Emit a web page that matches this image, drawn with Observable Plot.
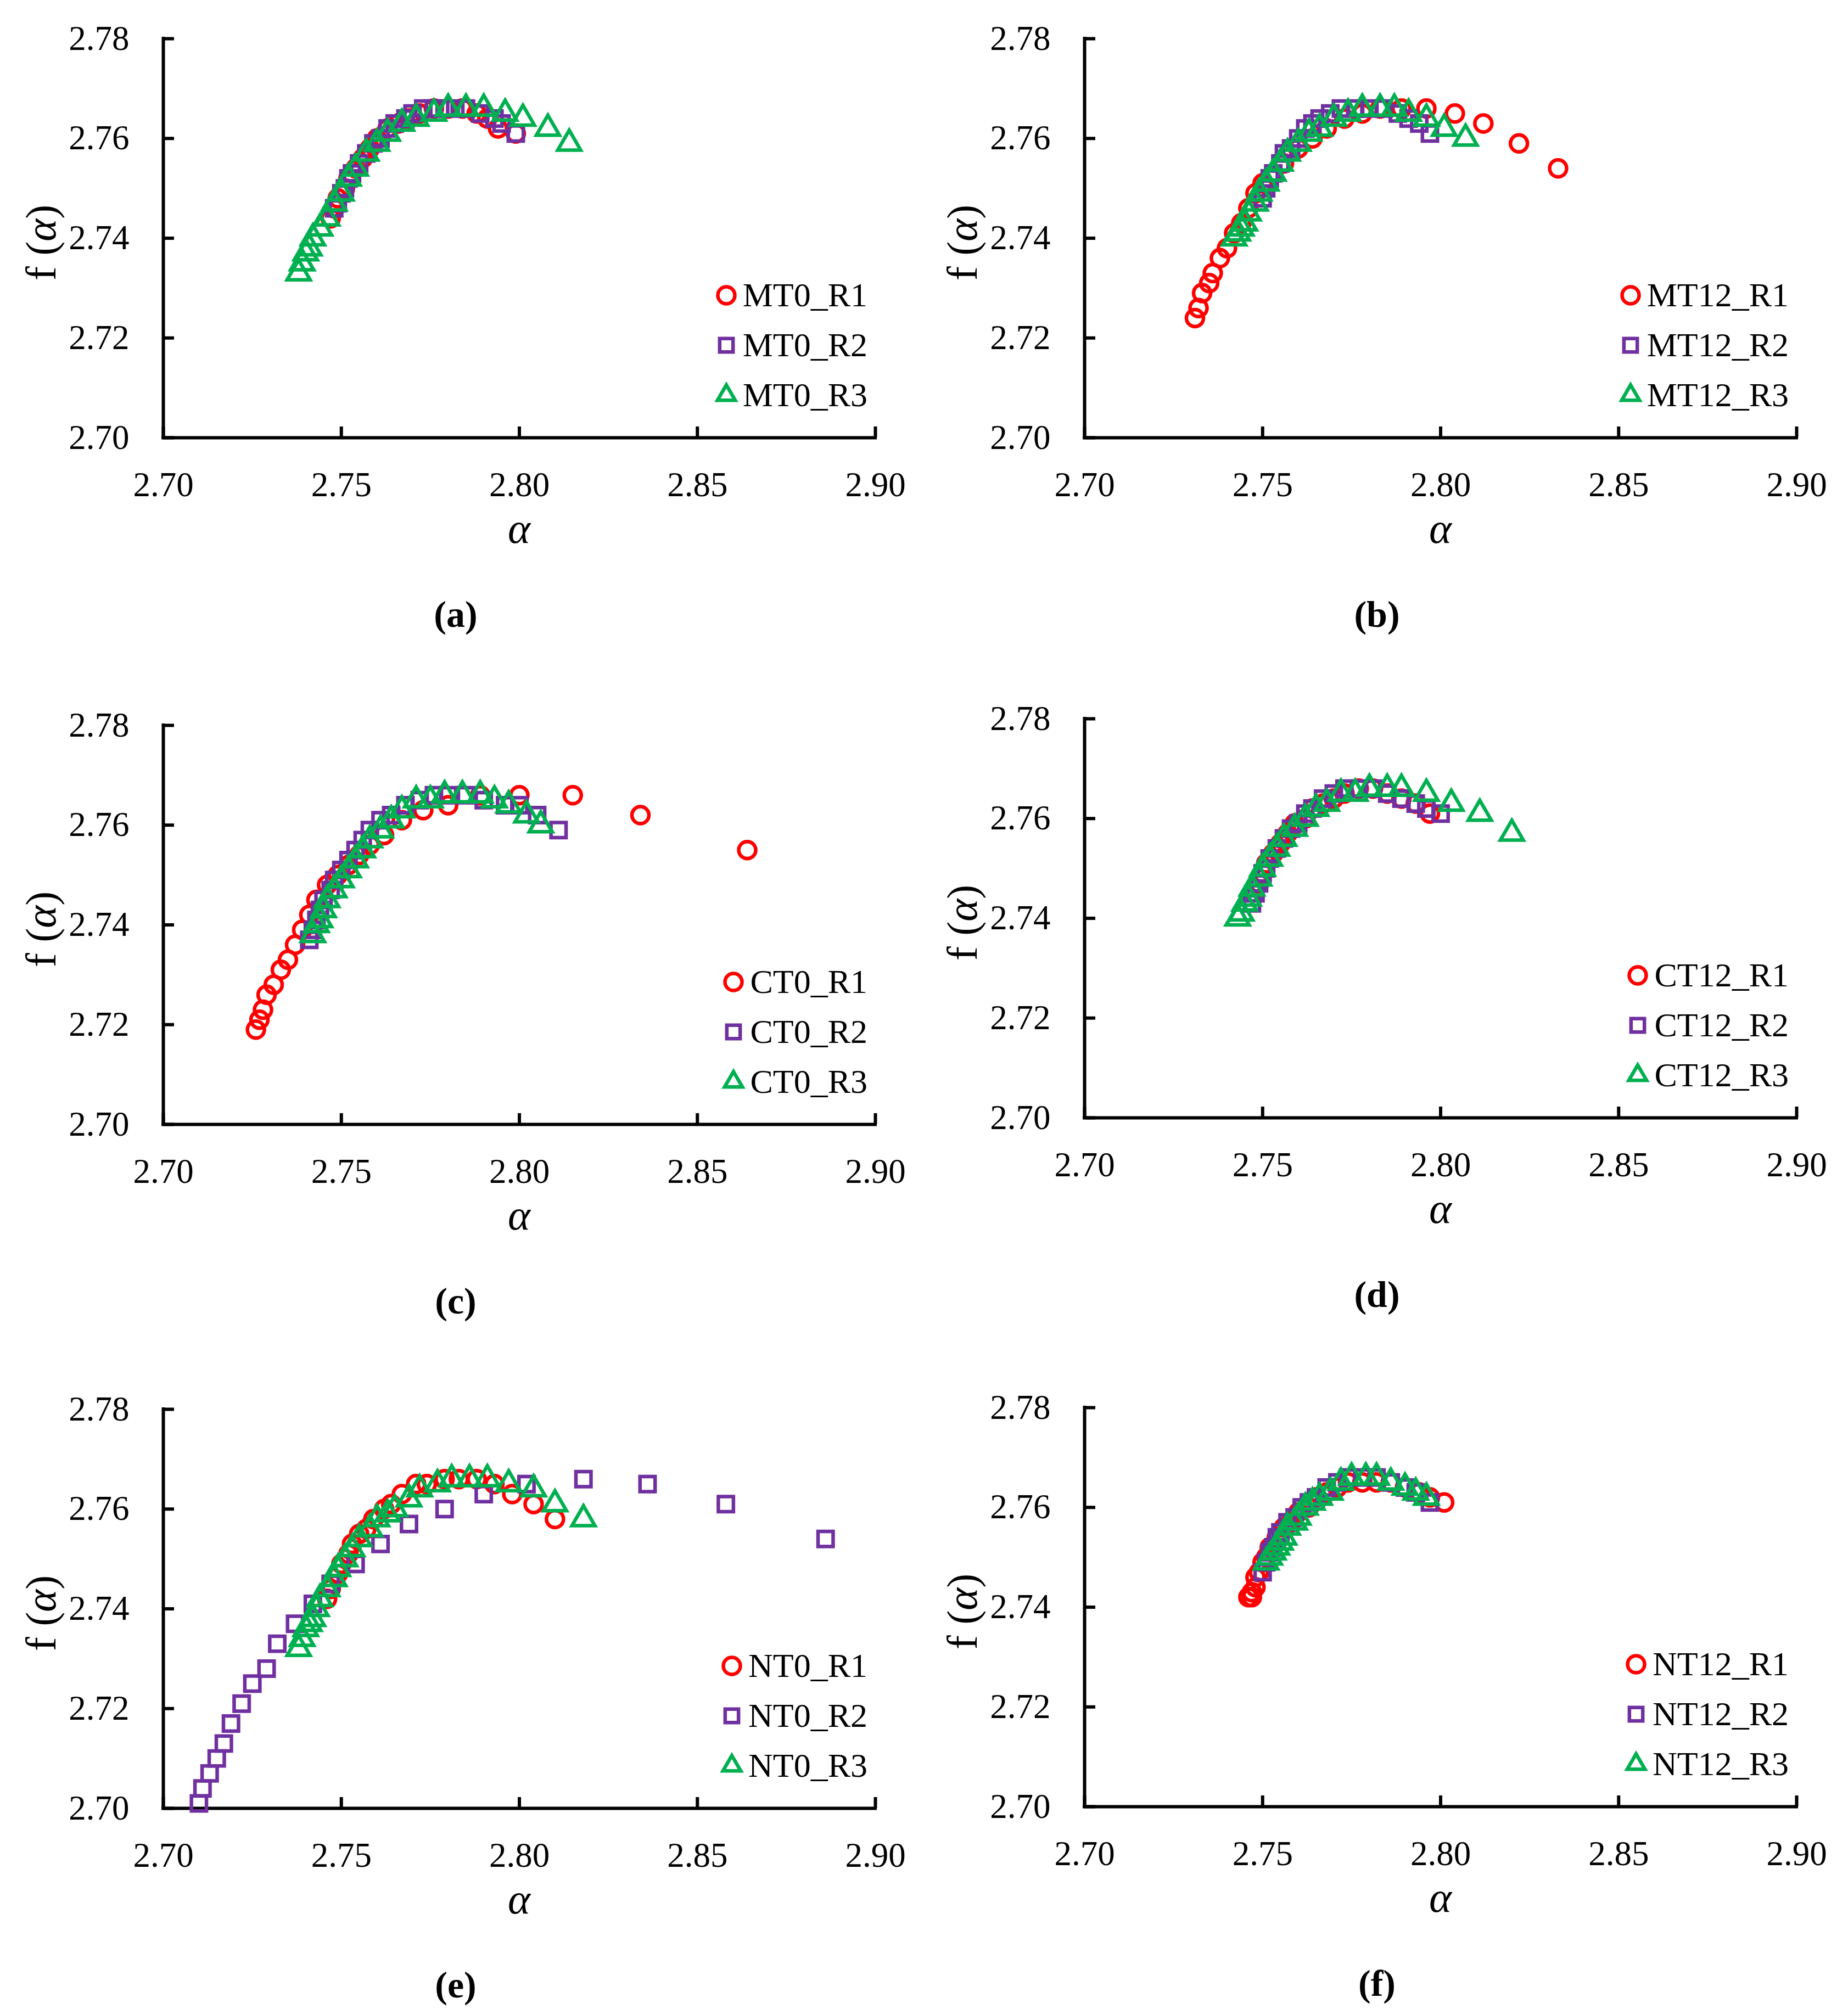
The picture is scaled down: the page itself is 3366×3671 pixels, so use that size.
<!DOCTYPE html>
<html>
<head>
<meta charset="utf-8">
<script src="https://cdn.jsdelivr.net/npm/d3@7"></script>
<script src="https://cdn.jsdelivr.net/npm/@observablehq/plot@0.6"></script>
<style>
  body { margin: 0; background: #fff; }
  #fig { position: relative; width: 3366px; height: 3671px; font-family: "Liberation Serif", serif; color: #000; }
  #fig > svg { position: absolute; overflow: visible; }
  .lbl { position: absolute; transform: translate(-50%, -50%); white-space: nowrap; }
  .legend { position: absolute; font-size: 62px; }
  .legend .row { display: flex; align-items: center; height: 91px; justify-content: flex-start; }
  .legend .row svg { position: static; margin-right: 10px; overflow: visible; }
</style>
</head>
<body>
<div id="fig"></div>
<script>
// ticks
const alphaTicks = [2.70, 2.75, 2.80, 2.85, 2.90]
const fTicks = [2.70, 2.72, 2.74, 2.76, 2.78]

// (a) MT0  [alpha, f(alpha)]
const MT0_R1 = [[2.747,2.744],[2.748,2.746],[2.749,2.748],[2.751,2.750],[2.752,2.752],[2.754,2.754],[2.756,2.756],[2.758,2.758],[2.760,2.760],[2.763,2.762],[2.766,2.763],[2.769,2.764],[2.772,2.765],[2.776,2.766],[2.780,2.766],[2.784,2.766],[2.788,2.765],[2.791,2.764],[2.794,2.762],[2.799,2.761]]
const MT0_R2 = [[2.748,2.746],[2.749,2.747],[2.750,2.749],[2.751,2.750],[2.752,2.752],[2.753,2.753],[2.755,2.755],[2.757,2.757],[2.759,2.759],[2.761,2.760],[2.763,2.762],[2.765,2.763],[2.768,2.764],[2.770,2.765],[2.773,2.766],[2.776,2.766],[2.779,2.766],[2.782,2.766],[2.785,2.766],[2.789,2.765],[2.793,2.764],[2.795,2.763],[2.799,2.761]]
const MT0_R3 = [[2.738,2.733],[2.739,2.735],[2.740,2.737],[2.741,2.738],[2.742,2.740],[2.744,2.742],[2.746,2.744],[2.748,2.747],[2.750,2.749],[2.752,2.752],[2.754,2.754],[2.757,2.757],[2.760,2.759],[2.763,2.761],[2.767,2.763],[2.771,2.764],[2.776,2.765],[2.780,2.766],[2.785,2.766],[2.790,2.766],[2.796,2.765],[2.801,2.764],[2.808,2.762],[2.814,2.759]]

// (b) MT12
const MT12_R1 = [[2.731,2.724],[2.732,2.726],[2.733,2.729],[2.735,2.731],[2.736,2.733],[2.738,2.736],[2.740,2.738],[2.742,2.741],[2.744,2.743],[2.746,2.746],[2.748,2.749],[2.750,2.751],[2.753,2.753],[2.756,2.755],[2.760,2.758],[2.764,2.760],[2.768,2.762],[2.773,2.764],[2.778,2.765],[2.783,2.766],[2.789,2.766],[2.796,2.766],[2.804,2.765],[2.812,2.763],[2.822,2.759],[2.833,2.754]]
const MT12_R2 = [[2.750,2.748],[2.751,2.750],[2.752,2.752],[2.753,2.753],[2.755,2.755],[2.756,2.757],[2.758,2.758],[2.760,2.760],[2.762,2.762],[2.764,2.763],[2.766,2.764],[2.769,2.765],[2.772,2.766],[2.776,2.766],[2.780,2.766],[2.784,2.766],[2.788,2.765],[2.791,2.764],[2.794,2.763],[2.797,2.761]]
const MT12_R3 = [[2.742,2.740],[2.743,2.741],[2.744,2.742],[2.745,2.743],[2.746,2.745],[2.748,2.747],[2.749,2.749],[2.751,2.751],[2.753,2.753],[2.755,2.755],[2.757,2.757],[2.760,2.759],[2.763,2.761],[2.766,2.762],[2.770,2.764],[2.774,2.765],[2.778,2.766],[2.783,2.766],[2.787,2.766],[2.791,2.765],[2.796,2.764],[2.801,2.762],[2.807,2.760]]

// (c) CT0
const CT0_R1 = [[2.726,2.719],[2.727,2.721],[2.728,2.723],[2.729,2.726],[2.731,2.728],[2.733,2.731],[2.735,2.733],[2.737,2.736],[2.739,2.739],[2.741,2.742],[2.743,2.745],[2.746,2.748],[2.749,2.750],[2.752,2.752],[2.755,2.754],[2.758,2.756],[2.762,2.758],[2.767,2.761],[2.773,2.763],[2.780,2.764],[2.789,2.766],[2.800,2.766],[2.815,2.766],[2.834,2.762],[2.864,2.755]]
const CT0_R2 = [[2.741,2.737],[2.742,2.739],[2.743,2.741],[2.744,2.743],[2.745,2.745],[2.747,2.747],[2.748,2.749],[2.750,2.751],[2.752,2.753],[2.754,2.755],[2.756,2.757],[2.758,2.759],[2.761,2.761],[2.764,2.762],[2.768,2.764],[2.772,2.765],[2.776,2.766],[2.780,2.766],[2.785,2.766],[2.790,2.765],[2.796,2.764],[2.800,2.764],[2.805,2.762],[2.811,2.759]]
const CT0_R3 = [[2.742,2.738],[2.743,2.740],[2.744,2.741],[2.745,2.743],[2.746,2.745],[2.748,2.747],[2.750,2.749],[2.752,2.751],[2.754,2.753],[2.756,2.755],[2.758,2.757],[2.761,2.759],[2.764,2.761],[2.767,2.763],[2.771,2.765],[2.775,2.765],[2.779,2.766],[2.784,2.766],[2.789,2.766],[2.793,2.765],[2.797,2.764],[2.802,2.762],[2.806,2.760]]

// (d) CT12
const CT12_R1 = [[2.749,2.747],[2.750,2.749],[2.751,2.751],[2.753,2.753],[2.755,2.755],[2.757,2.757],[2.759,2.759],[2.762,2.760],[2.764,2.762],[2.767,2.763],[2.770,2.764],[2.773,2.765],[2.777,2.766],[2.781,2.766],[2.785,2.765],[2.789,2.764],[2.793,2.763],[2.797,2.761]]
const CT12_R2 = [[2.747,2.743],[2.748,2.745],[2.749,2.747],[2.750,2.749],[2.751,2.750],[2.752,2.752],[2.754,2.754],[2.756,2.756],[2.758,2.758],[2.760,2.759],[2.762,2.761],[2.764,2.762],[2.767,2.764],[2.770,2.765],[2.773,2.766],[2.777,2.766],[2.781,2.766],[2.785,2.765],[2.789,2.764],[2.793,2.763],[2.796,2.762],[2.800,2.761]]
const CT12_R3 = [[2.743,2.740],[2.744,2.741],[2.745,2.743],[2.746,2.744],[2.747,2.746],[2.749,2.748],[2.750,2.750],[2.752,2.752],[2.754,2.754],[2.756,2.756],[2.759,2.758],[2.762,2.760],[2.765,2.762],[2.768,2.763],[2.772,2.765],[2.776,2.765],[2.780,2.766],[2.785,2.766],[2.789,2.766],[2.796,2.765],[2.803,2.763],[2.811,2.761],[2.820,2.757]]

// (e) NT0
const NT0_R1 = [[2.746,2.742],[2.747,2.744],[2.749,2.747],[2.750,2.749],[2.752,2.751],[2.753,2.753],[2.755,2.755],[2.757,2.756],[2.759,2.758],[2.762,2.760],[2.764,2.761],[2.767,2.763],[2.771,2.765],[2.774,2.765],[2.779,2.766],[2.783,2.766],[2.788,2.766],[2.793,2.765],[2.798,2.763],[2.804,2.761],[2.810,2.758]]
const NT0_R2 = [[2.710,2.701],[2.711,2.704],[2.713,2.707],[2.715,2.710],[2.717,2.713],[2.719,2.717],[2.722,2.721],[2.725,2.725],[2.729,2.728],[2.732,2.733],[2.737,2.737],[2.742,2.741],[2.747,2.745],[2.754,2.749],[2.761,2.753],[2.769,2.757],[2.779,2.760],[2.790,2.763],[2.802,2.765],[2.818,2.766],[2.836,2.765],[2.858,2.761],[2.886,2.754]]
const NT0_R3 = [[2.738,2.732],[2.739,2.734],[2.740,2.736],[2.741,2.737],[2.742,2.738],[2.743,2.740],[2.744,2.742],[2.746,2.744],[2.748,2.746],[2.749,2.748],[2.751,2.750],[2.753,2.752],[2.755,2.754],[2.758,2.756],[2.760,2.758],[2.763,2.759],[2.765,2.760],[2.769,2.762],[2.772,2.764],[2.777,2.765],[2.781,2.766],[2.786,2.766],[2.791,2.766],[2.797,2.765],[2.804,2.764],[2.810,2.761],[2.818,2.758]]

// (f) NT12
const NT12_R1 = [[2.746,2.742],[2.747,2.742],[2.747,2.743],[2.748,2.744],[2.748,2.746],[2.749,2.747],[2.750,2.749],[2.751,2.750],[2.752,2.752],[2.754,2.754],[2.756,2.756],[2.758,2.757],[2.760,2.759],[2.763,2.760],[2.765,2.762],[2.768,2.763],[2.771,2.764],[2.774,2.765],[2.778,2.765],[2.782,2.765],[2.786,2.765],[2.790,2.764],[2.794,2.763],[2.797,2.762],[2.801,2.761]]
const NT12_R2 = [[2.750,2.747],[2.751,2.749],[2.752,2.751],[2.753,2.752],[2.754,2.754],[2.755,2.755],[2.757,2.757],[2.759,2.758],[2.761,2.760],[2.763,2.761],[2.765,2.762],[2.768,2.764],[2.771,2.765],[2.774,2.766],[2.778,2.766],[2.782,2.766],[2.786,2.765],[2.790,2.764],[2.793,2.763],[2.797,2.761]]
const NT12_R3 = [[2.751,2.749],[2.752,2.750],[2.753,2.751],[2.754,2.752],[2.755,2.753],[2.756,2.754],[2.757,2.756],[2.759,2.757],[2.760,2.758],[2.762,2.760],[2.764,2.761],[2.766,2.762],[2.769,2.763],[2.772,2.765],[2.775,2.766],[2.779,2.766],[2.782,2.766],[2.786,2.765],[2.790,2.764],[2.793,2.763],[2.796,2.762]]

const panels = [
  {caption: "(a)", col: 0, top: 70,   series: [["MT0_R1", MT0_R1], ["MT0_R2", MT0_R2], ["MT0_R3", MT0_R3]]},
  {caption: "(b)", col: 1, top: 70,   series: [["MT12_R1", MT12_R1], ["MT12_R2", MT12_R2], ["MT12_R3", MT12_R3]]},
  {caption: "(c)", col: 0, top: 1321, series: [["CT0_R1", CT0_R1], ["CT0_R2", CT0_R2], ["CT0_R3", CT0_R3]]},
  {caption: "(d)", col: 1, top: 1309, series: [["CT12_R1", CT12_R1], ["CT12_R2", CT12_R2], ["CT12_R3", CT12_R3]]},
  {caption: "(e)", col: 0, top: 2567, series: [["NT0_R1", NT0_R1], ["NT0_R2", NT0_R2], ["NT0_R3", NT0_R3]]},
  {caption: "(f)", col: 1, top: 2564, series: [["NT12_R1", NT12_R1], ["NT12_R2", NT12_R2], ["NT12_R3", NT12_R3]]}
]

// one style per replicate: R1 circles, R2 squares, R3 triangles
const markers = [
  {symbol: "circle",   stroke: "#FF0000", d3sym: d3.symbolCircle},
  {symbol: "square",   stroke: "#7030A0", d3sym: d3.symbolSquare2},
  {symbol: "triangle", stroke: "#00B050", d3sym: d3.symbolTriangle2}
]

const colLeft = [297, 1975]
const plotW = 1297, plotH = 727
const mL = 297, mT = 70, mB = 203, svgW = 1683
const R = 15.5, SW = 6.5, AW = 6, tickLen = 20

const fig = d3.select("#fig")

panels.forEach(p => {
  const left = colLeft[p.col]
  const chart = Plot.plot({
    width: svgW,
    height: mT + plotH + mB,
    marginLeft: mL,
    marginRight: svgW - mL - plotW,
    marginTop: mT,
    marginBottom: mB,
    style: {fontFamily: "'Liberation Serif', serif", fontSize: "63px", background: "transparent", color: "#000"},
    x: {domain: [2.70, 2.90], ticks: alphaTicks, tickSize: 0, tickPadding: 62, tickFormat: d => d.toFixed(2), label: null},
    y: {domain: [2.70, 2.78], ticks: fTicks, tickSize: 0, tickPadding: 62, tickFormat: d => d.toFixed(2), label: null},
    marks: [
      Plot.ruleX([2.70], {stroke: "#000", strokeWidth: AW, strokeLinecap: "square"}),
      Plot.ruleY([2.70], {stroke: "#000", strokeWidth: AW, strokeLinecap: "square"}),
      Plot.tickX(alphaTicks, {x: d => d, insetTop: plotH - tickLen, stroke: "#000", strokeWidth: AW}),
      Plot.tickY(fTicks, {y: d => d, insetRight: plotW - tickLen, stroke: "#000", strokeWidth: AW}),
      ...p.series.map(([name, pts], i) =>
        Plot.dot(pts, {x: d => d[0], y: d => d[1], symbol: markers[i].symbol, r: R,
          stroke: markers[i].stroke, strokeWidth: SW, fill: "none"}))
    ]
  })
  d3.select(chart).style("left", (left - mL) + "px").style("top", (p.top - mT) + "px")
  fig.append(() => chart)

  // axis titles
  fig.append("div").attr("class", "lbl")
    .style("left", (left + plotW / 2) + "px").style("top", (p.top + plotH + 166) + "px")
    .style("font-size", "78px").style("font-style", "italic").text("α")
  fig.append("div").attr("class", "lbl")
    .style("left", (left - 222) + "px").style("top", (p.top + plotH / 2 + 8) + "px")
    .style("font-size", "78px").style("transform", "translate(-50%, -50%) rotate(-90deg)")
    .html("f (<i>α</i>)")

  // caption
  fig.append("div").attr("class", "lbl")
    .style("left", (left + 533) + "px").style("top", (p.top + plotH + 322) + "px")
    .style("font-size", "68px").style("font-weight", "bold").text(p.caption)

  // legend
  const lg = fig.append("div").attr("class", "legend")
    .style("right", (3366 - (left + plotW - 14)) + "px").style("top", (p.top + 422) + "px")
  p.series.forEach(([name], i) => {
    const row = lg.append("div").attr("class", "row")
    const s = row.append("svg").attr("width", 40).attr("height", 40)
    s.append("path").attr("transform", "translate(20,20)")
      .attr("d", d3.symbol(markers[i].d3sym, R * R * Math.PI)())
      .attr("fill", "none").attr("stroke", markers[i].stroke).attr("stroke-width", SW)
    row.append("span").text(name)
  })
})
</script>
</body>
</html>
